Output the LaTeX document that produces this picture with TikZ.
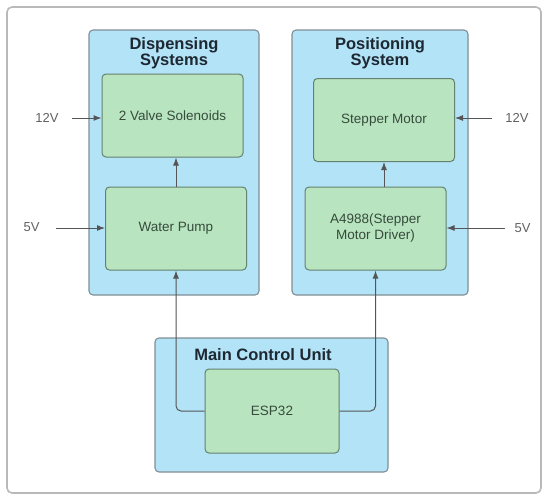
\documentclass[tikz,border=0pt]{standalone}
\usepackage{fontspec}
\setmainfont{Liberation Sans}
\usetikzlibrary{arrows.meta,positioning,calc}
\definecolor{sysblue}{RGB}{179,227,247}
\definecolor{sysedge}{RGB}{128,142,150}
\definecolor{partgreen}{RGB}{184,228,192}
\definecolor{partedge}{RGB}{100,130,110}
\definecolor{titletext}{RGB}{30,40,50}
\definecolor{parttext}{RGB}{55,75,60}
\definecolor{wiregray}{RGB}{85,85,85}
\tikzset{
  sysbox/.style={draw=sysedge, fill=sysblue, line width=1.1pt, rounded corners=4pt, inner sep=0pt},
  partbox/.style={draw=partedge, fill=partgreen, line width=1pt, rounded corners=4pt, inner sep=0pt,
    minimum width=141pt, minimum height=83pt, font=\fontsize{13.5}{16}\selectfont, text=parttext, align=center},
  systitle/.style={font=\fontsize{16.5}{16.5}\selectfont\bfseries, text=titletext, align=center, inner sep=0pt},
  volt/.style={font=\fontsize{13}{15}\selectfont, text=gray!75!black, inner sep=0pt},
  wire/.style={draw=wiregray, line width=1pt, -{Latex[length=8pt,width=6pt]}},
}

\begin{document}
\begin{tikzpicture}[x=1pt,y=-1pt]
\useasboundingbox (0,0) rectangle (550,501);
% outer frame
\node[draw=gray!55, line width=1.6pt, rounded corners=5pt, minimum width=534pt, minimum height=486pt, inner sep=0pt] (frame) at (274,250) {};

% subsystems
\node[sysbox, minimum width=170pt, minimum height=265pt] (disp) at (174,162.5) {};
\node[sysbox, minimum width=176pt, minimum height=265pt] (posn) at (380,162.5) {};
\node[sysbox, minimum width=233pt, minimum height=134pt] (mcu) at (271.5,405) {};
\node[systitle] (dispT) at (174,53) {Dispensing\\Systems};
\node[systitle] (posnT) at (380,53) {Positioning\\System};
\node[systitle] (mcuT) at (263,355) {Main Control Unit};

% parts
\node[partbox] (sol) at (172.5,115.5) {2 Valve Solenoids};
\node[partbox] (pump) at (176,228.5) {Water Pump};
\node[partbox] (mot) at (384,120) {Stepper Motor};
\node[partbox] (drv) at (375.5,228.5) {A4988(Stepper\\Motor Driver)};
\node[partbox, minimum width=134pt, minimum height=84pt] (esp) at (272,411) {ESP32};

% supply voltages
\node[volt] (v12a) at (47,118) {12V};
\node[volt] (v5a) at (31.5,227.5) {5V};
\node[volt] (v12b) at (517,118) {12V};
\node[volt] (v5b) at (522.5,228) {5V};
\coordinate (s12a) at (72,118);
\coordinate (s5a) at (56,228);
\coordinate (s12b) at (492,118);
\coordinate (s5b) at (505,228);
\draw[wire] (s12a) -- (s12a -| sol.west);
\draw[wire] (s5a) -- (s5a -| pump.west);
\draw[wire] (s12b) -- (s12b -| mot.east);
\draw[wire] (s5b) -- (s5b -| drv.east);

% signal paths
\draw[wire] (pump.north) -- (pump.north |- sol.south);
\draw[wire] (drv.north -| mot.south) -- (mot.south);
\draw[wire, rounded corners=5pt] (esp.west) -| (pump.south);
\draw[wire, rounded corners=5pt] (esp.east) -| (drv.south);
\end{tikzpicture}
\end{document}
